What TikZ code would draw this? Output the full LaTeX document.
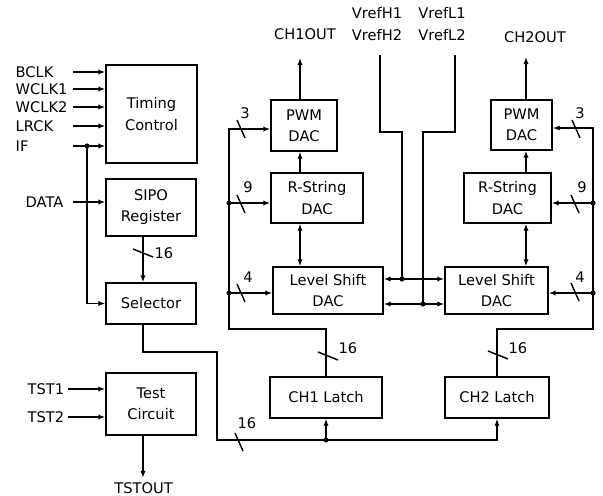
\documentclass[tikz,border=0pt]{standalone}
\usepackage{fontspec}
\setmainfont{DejaVu Sans}
\usetikzlibrary{arrows.meta}

\tikzset{every picture/.style={line width=1.2pt}}

\begin{document}
\begin{tikzpicture}[x=0.03cm, y=-0.03cm,
    every node/.style={font=\fontsize{12.5}{18}\selectfont},
    box/.style={draw, align=center, inner sep=1pt},
    lbl/.style={anchor=west, inner sep=0pt},
    arr/.style={-{Latex[length=6pt,width=4.5pt]}},
    dbl/.style={{Latex[length=6pt,width=4.5pt]}-{Latex[length=6pt,width=4.5pt]}}]
    \useasboundingbox (0,0) rectangle (603,496);
    % blocks
    \node[box, minimum width=27.3mm, minimum height=29.4mm] (timing) at (151.5,114) {Timing\\Control};
    \node[box, minimum width=27mm, minimum height=17.1mm] (sipo) at (151,207.5) {SIPO\\Register};
    \node[box, minimum width=27mm, minimum height=12.3mm] (sel) at (151,303.5) {Selector};
    \node[box, minimum width=27mm, minimum height=18.6mm] (test) at (151,404) {Test\\Circuit};
    \node[box, minimum width=19.8mm, minimum height=15.3mm] (pwmA) at (304,125.5) {PWM\\DAC};
    \node[box, minimum width=27.6mm, minimum height=15mm] (rsA) at (317,198) {R-String\\DAC};
    \node[box, minimum width=33mm, minimum height=14.1mm] (lsA) at (328,290.5) {Level Shift\\DAC};
    \node[box, minimum width=18.3mm, minimum height=15mm] (pwmB) at (521.5,125) {PWM\\DAC};
    \node[box, minimum width=26.1mm, minimum height=15mm] (rsB) at (507.5,198) {R-String\\DAC};
    \node[box, minimum width=30.9mm, minimum height=14.1mm] (lsB) at (496.5,290.5) {Level Shift\\DAC};
    \node[box, minimum width=33.6mm, minimum height=12.3mm] (latA) at (326,397.5) {CH1 Latch};
    \node[box, minimum width=31.2mm, minimum height=12.3mm] (latB) at (497,397.5) {CH2 Latch};
    % pin labels
    \node[lbl] (bclk) at (15,72) {BCLK};
    \node[lbl] (wclka) at (15,89) {WCLK1};
    \node[lbl] (wclkb) at (15,107) {WCLK2};
    \node[lbl] (lrck) at (15,126) {LRCK};
    \node[lbl] (if) at (15,146) {IF};
    \node[lbl] (data) at (25,202) {DATA};
    \node[lbl] (tsta) at (27,389) {TST1};
    \node[lbl] (tstb) at (27,417) {TST2};
    \node (tsout) at (143.5,488) {TSTOUT};
    \node (ch1out) at (305,34) {CH1OUT};
    \node (ch2out) at (535,37) {CH2OUT};
    \node (vrefha) at (377,13) {VrefH1};
    \node (vrefla) at (442,13) {VrefL1};
    \node (vrefhb) at (377,35) {VrefH2};
    \node (vreflb) at (442,35) {VrefL2};
    % helper points
    \coordinate (inx) at (73,0);
    \coordinate (tsx) at (68,0);
    \coordinate (col) at (143,0);
    \coordinate (ifj) at (87,146);
    \coordinate (oA) at (300,58);
    \coordinate (oB) at (526,57);
    \coordinate (sbA) at (217,352);
    \coordinate (sbB) at (217,440);
    \coordinate (sbJ) at (latA.south |- sbB);
    \coordinate (bA3) at (229,129);
    \coordinate (bA9) at (229,203);
    \coordinate (bA4) at (229,293);
    \coordinate (bAb) at (229,329);
    \coordinate (bB3) at (593,128);
    \coordinate (bB9) at (593,203);
    \coordinate (bB4) at (593,293);
    \coordinate (bBb) at (593,329);
    \coordinate (vH) at (380,55);
    \coordinate (vL) at (455,55);
    \coordinate (kH) at (402,132);
    \coordinate (kL) at (423,132);
    \coordinate (jH) at (402,279);
    \coordinate (jL) at (423,304);
    % inputs
    \foreach \n in {bclk,wclka,wclkb,lrck,if}
        \draw[arr] (inx |- \n) -- (timing.west |- \n);
    \draw[arr] (inx |- data) -- (sipo.west |- data);
    \draw[arr] (tsx |- tsta) -- (test.west |- tsta);
    \draw[arr] (tsx |- tstb) -- (test.west |- tstb);
    \draw[arr] (ifj) |- (sel.west);
    \draw[arr] (sipo.south -| col) -- (sel.north -| col);
    \draw[arr] (test.south -| col) -- (col |- tsout.north);
    % data bus to latches
    \draw[arr] (sel.south -| col) |- (sbA) -- (sbB) -| (latB.south);
    \draw[arr] (sbJ) -- (latA.south);
    % channel 1
    \draw[arr] (pwmA.north -| oA) -- (oA);
    \draw[arr] (rsA.north -| oA) -- (pwmA.south -| oA);
    \draw[dbl] (lsA.north -| oA) -- (rsA.south -| oA);
    \draw[arr] (latA.north) |- (bAb) -- (bA3) -- (pwmA.west |- bA3);
    \draw[arr] (bA9) -- (rsA.west |- bA9);
    \draw[arr] (bA4) -- (lsA.west |- bA4);
    % channel 2
    \draw[arr] (pwmB.north -| oB) -- (oB);
    \draw[arr] (rsB.north -| oB) -- (pwmB.south -| oB);
    \draw[dbl] (lsB.north -| oB) -- (rsB.south -| oB);
    \draw[arr] (latB.north) |- (bBb) -- (bB3) -- (pwmB.east |- bB3);
    \draw[arr] (bB9) -- (rsB.east |- bB9);
    \draw[arr] (bB4) -- (lsB.east |- bB4);
    % reference voltages
    \draw (vH) |- (kH) -- (jH);
    \draw (vL) |- (kL) -- (jL);
    \draw[arr] (jH) -- (lsA.east |- jH);
    \draw[arr] (jH) -- (lsB.west |- jH);
    \draw[arr] (jL) -- (lsA.east |- jL);
    \draw[arr] (jL) -- (lsB.west |- jL);
    % junctions
    \foreach \p in {ifj,sbJ,bA9,bA4,bB9,bB4,jH,jL}
        \fill (\p) circle (2.2pt);
    % bus widths
    \foreach \x/\y in {241/129, 241/204, 241/293, 576/129, 575/204, 575/292, 239/442}
        \draw (\x-4,\y-9) -- (\x+4,\y+9);
    \foreach \x/\y in {143/253, 328/356, 498/355}
        \draw (\x-10,\y-4) -- (\x+10,\y+4);
    \node (wA3) at (245,113) {3};
    \node (wA9) at (248,187) {9};
    \node (wA4) at (248,277) {4};
    \node (wB3) at (580,113) {3};
    \node (wB9) at (582,187) {9};
    \node (wB4) at (580,277) {4};
    \node (wS) at (164,253) {16};
    \node (wLA) at (348,348) {16};
    \node (wLB) at (518,348) {16};
    \node (wD) at (247,423) {16};
\end{tikzpicture}
\end{document}
